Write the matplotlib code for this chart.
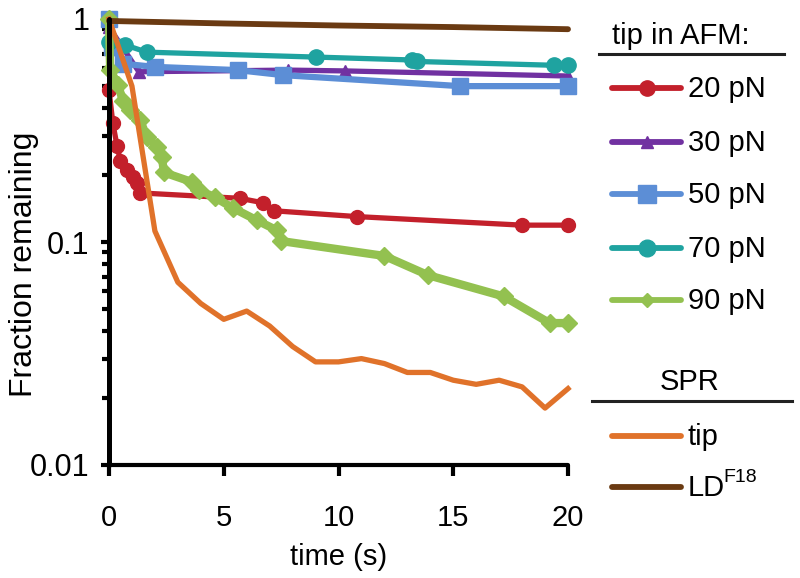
import matplotlib
matplotlib.use("Agg")
import matplotlib.pyplot as plt
from matplotlib.ticker import FixedLocator, NullFormatter

plt.rcParams['font.family'] = ['Liberation Sans', 'DejaVu Sans']

# ---------------- data ----------------
t_20 = [0, 0.17, 0.35, 0.5, 0.8, 1.05, 1.2, 1.35, 5.7, 6.7, 7.2, 10.8, 18.0, 20.0]
f_20 = [0.48, 0.34, 0.27, 0.23, 0.21, 0.196, 0.184, 0.166, 0.157, 0.15, 0.138, 0.13, 0.119, 0.119]

t_30 = [0, 1.3, 7.8, 10.3, 20.0]
f_30 = [0.92, 0.58, 0.59, 0.585, 0.555]

t_50 = [0, 0.15, 0.6, 2.0, 5.6, 7.6, 15.3, 20.0]
f_50 = [1.0, 0.75, 0.63, 0.61, 0.59, 0.56, 0.50, 0.50]

t_70 = [0, 0.7, 1.65, 9.0, 13.2, 13.4, 19.4, 20.0]
f_70 = [0.79, 0.765, 0.71, 0.675, 0.655, 0.645, 0.62, 0.62]

t_90 = [0, 0.05, 0.4, 0.6, 0.9, 1.35, 1.65, 2.1, 2.3, 2.4, 3.6, 3.9, 4.6, 5.4,
        6.45, 7.3, 7.5, 12.0, 13.9, 17.2, 19.2, 20.0]
f_90 = [1.0, 0.59, 0.506, 0.43, 0.39, 0.352, 0.296, 0.267, 0.24, 0.205, 0.186, 0.171,
        0.159, 0.142, 0.125, 0.113, 0.101, 0.0866, 0.071, 0.057, 0.0433, 0.0433]

t_tip = list(range(0, 21))
f_tip = [1.0, 0.5, 0.112, 0.066, 0.053, 0.045, 0.049, 0.042, 0.034, 0.029, 0.029,
         0.030, 0.0285, 0.026, 0.026, 0.024, 0.023, 0.024, 0.0224, 0.018, 0.022]

t_ld = [0, 5, 10, 15, 20]
f_ld = [0.98, 0.955, 0.935, 0.92, 0.90]

afm_labels = ['20 pN', '30 pN', '50 pN', '70 pN', '90 pN']
spr_labels = ['tip', 'LD']

x_ticks = [0, 5, 10, 15, 20]
y_ticks = [0.01, 0.1, 1]
y_ticklabels = ['0.01', '0.1', '1']

# ---------------- styles ----------------
C_RED = '#C3202B'
C_PUR = '#7131A1'
C_BLU = '#5C8ED6'
C_TEA = '#1FA3A0'
C_GRN = '#93C150'
C_ORA = '#E0722A'
C_BRN = '#6A3A12'

afm_styles = [
    dict(color=C_RED, lw=3.8, marker='o', ms=10),
    dict(color=C_PUR, lw=3.8, marker='^', ms=8),
    dict(color=C_BLU, lw=4.5, marker='s', ms=12),
    dict(color=C_TEA, lw=3.8, marker='o', ms=11),
    dict(color=C_GRN, lw=6.0, marker='D', ms=9),
]
spr_styles = [dict(color=C_ORA, lw=3.8), dict(color=C_BRN, lw=4.2)]

W, H = 800, 578
fig = plt.figure(figsize=(W / 100, H / 100), dpi=100)
ax = fig.add_axes([109 / W, 1 - 465 / H, (568 - 109) / W, (465 - 19) / H])

afm_t = [t_20, t_30, t_50, t_70, t_90]
afm_f = [f_20, f_30, f_50, f_70, f_90]
for tt, ff, st in zip(afm_t, afm_f, afm_styles):
    ax.plot(tt, ff, color=st['color'], lw=st['lw'], marker=st['marker'],
            ms=st['ms'], mec=st['color'], mfc=st['color'], clip_on=False,
            solid_joinstyle='round')
ax.plot(t_tip, f_tip, color=spr_styles[0]['color'], lw=spr_styles[0]['lw'],
        clip_on=False, solid_joinstyle='round')
ax.plot(t_ld, f_ld, color=spr_styles[1]['color'], lw=spr_styles[1]['lw'],
        clip_on=False, solid_capstyle='round')

ax.set_yscale('log')
ax.set_xlim(0, 20)
ax.set_ylim(0.01, 1)
ax.set_xticks(x_ticks)
ax.set_xticklabels([str(v) for v in x_ticks])
ax.yaxis.set_major_locator(FixedLocator(y_ticks))
ax.set_yticklabels(y_ticklabels)
minors = [m * d for d in (0.01, 0.1) for m in range(2, 10)]
ax.yaxis.set_minor_locator(FixedLocator(minors))
ax.yaxis.set_minor_formatter(NullFormatter())

for s in ('top', 'right'):
    ax.spines[s].set_visible(False)
ax.spines['left'].set_linewidth(3.6)
ax.spines['bottom'].set_linewidth(3.0)
ax.spines['left'].set_capstyle('round')
ax.spines['bottom'].set_capstyle('round')

ax.tick_params(axis='x', which='major', direction='out', length=8, width=3,
               pad=20, labelsize=21)
ax.tick_params(axis='y', which='major', direction='out', length=6, width=3,
               pad=8, labelsize=22)
ax.tick_params(axis='y', which='minor', direction='out', length=5, width=3)

ax.set_xlabel('time (s)', fontsize=21, labelpad=8)
ax.set_ylabel('Fraction remaining', fontsize=23)
ax.yaxis.set_label_coords(-0.152, 0.45)

# ---------------- custom legend ----------------
ov = fig.add_axes([0, 0, 1, 1])
ov.set_xlim(0, W)
ov.set_ylim(H, 0)
ov.axis('off')

ov.text(681, 36, 'tip in AFM:', fontsize=21, ha='center', va='center')
ov.plot([599, 784], [54, 54], color='#222222', lw=2.2)
ys = [88, 142, 194, 248, 300]
for lab, st, y in zip(afm_labels, afm_styles, ys):
    ov.plot([612, 681], [y, y], color=st['color'], lw=4.2, solid_capstyle='round')
    ms = st['ms'] + 1 if st['marker'] != 'D' else 7
    ov.plot([647], [y], marker=st['marker'], ms=ms, color=st['color'],
            mec=st['color'])
    ov.text(688, y + 1, lab, fontsize=21, ha='left', va='center')

ov.text(690, 382, 'SPR', fontsize=21, ha='center', va='center')
ov.plot([592, 792], [401, 401], color='#222222', lw=2.2)
for lab, st, y in zip(spr_labels, spr_styles, [436, 487]):
    ov.plot([612, 681], [y, y], color=st['color'], lw=4.2, solid_capstyle='round')
    ov.text(688, y + 1, lab, fontsize=21, ha='left', va='center')
# superscript for LD
ov.text(723, 478, 'F18', fontsize=14, ha='left', va='center')

fig.savefig('out.png', dpi=100)
